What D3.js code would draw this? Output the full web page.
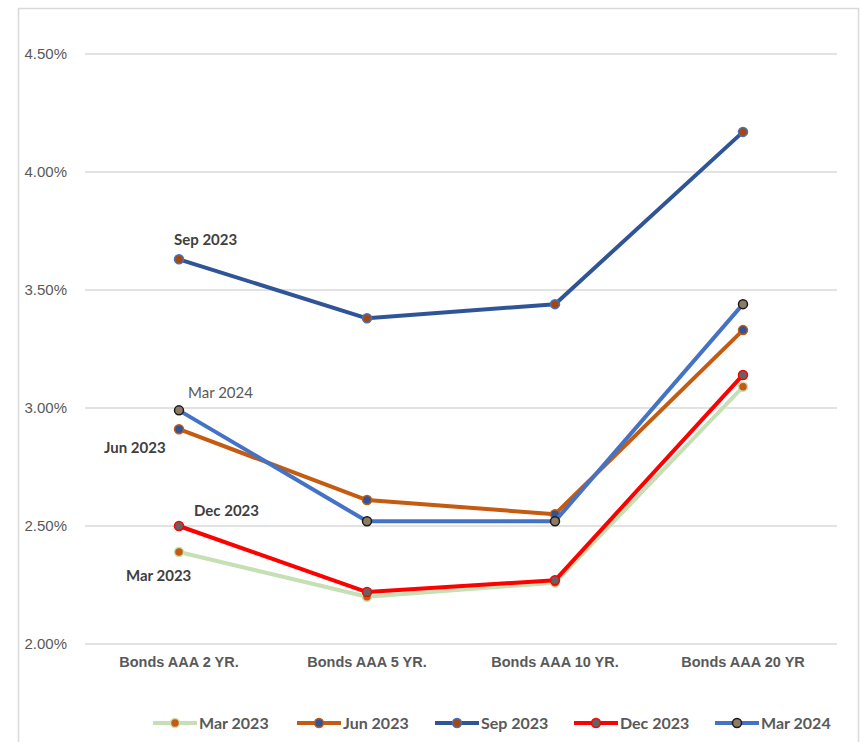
<!DOCTYPE html>
<html>
<head>
<meta charset="utf-8">
<script src="https://cdn.jsdelivr.net/npm/d3@7/dist/d3.min.js"></script>
<style>
  body { margin: 0; background: #fff; }
  svg { font-family: "Lato", "Open Sans", sans-serif; }
  .grid line { stroke: #d9d9d9; stroke-width: 1.5; }
  .ylab { fill: #595959; font-size: 15px; }
  .xlab { fill: #595959; font-size: 14.5px; font-weight: bold; }
  .leg { fill: #595959; font-size: 16px; font-weight: bold; }
</style>
</head>
<body>
<svg id="chart" width="862" height="742"></svg>
<script>
// categories along the x axis
var categories = ['Bonds AAA 2 YR.', 'Bonds AAA 5 YR.', 'Bonds AAA 10 YR.', 'Bonds AAA 20 YR'];
var yTicks = [2.0, 2.5, 3.0, 3.5, 4.0, 4.5];

// series values (percent)
var mar2023 = [2.39, 2.20, 2.26, 3.09];
var jun2023 = [2.91, 2.61, 2.55, 3.33];
var sep2023 = [3.63, 3.38, 3.44, 4.17];
var dec2023 = [2.50, 2.22, 2.27, 3.14];
var mar2024 = [2.99, 2.52, 2.52, 3.44];

var seriesNames = ['Mar 2023', 'Jun 2023', 'Sep 2023', 'Dec 2023', 'Mar 2024'];
var seriesValues = [mar2023, jun2023, sep2023, dec2023, mar2024];

// style per series: line colour, marker fill, marker outline
var styles = [
    {line: '#c5e0b4', fill: '#c55a11', edge: '#c5e0b4'},
    {line: '#c55a11', fill: '#2f5597', edge: '#c55a11'},
    {line: '#2f5597', fill: '#a5480f', edge: '#4472c4'},
    {line: '#ff0000', fill: '#636363', edge: '#ff0000'},
    {line: '#4472c4', fill: '#8c7b65', edge: '#1a1a1a'}
];

// label placement for the data labels at the first point
var labelInfo = [
    {dx: -53, dy: 29, bold: true, color: '#404040'},
    {dx: -75, dy: 24, bold: true, color: '#404040'},
    {dx: -5, dy: -14, bold: true, color: '#404040'},
    {dx: 15, dy: -10, bold: true, color: '#404040'},
    {dx: 9, dy: -12, bold: false, color: '#595959'}
];

var svg = d3.select('#chart');

// chart frame
svg.append('path')
    .attr('d', 'M18.5,750 V8.5 H858.5 V750')
    .attr('fill', 'none')
    .attr('stroke', '#d9d9d9')
    .attr('stroke-width', 1.5);

var x = d3.scaleBand().domain(categories).range([85, 837]);
var y = d3.scaleLinear().domain([2.0, 4.5]).range([644, 54]);

// gridlines
svg.append('g').attr('class', 'grid')
    .selectAll('line')
    .data(yTicks).enter().append('line')
    .attr('x1', 85).attr('x2', 837)
    .attr('y1', function(d) { return y(d); })
    .attr('y2', function(d) { return y(d); });

// y axis labels
var yAxis = d3.axisLeft(y).tickValues(yTicks).tickSize(0).tickPadding(0)
    .tickFormat(function(d) { return d3.format('.2f')(d) + '%'; });
var gy = svg.append('g').attr('transform', 'translate(67,0)').call(yAxis);
gy.select('.domain').remove();
gy.selectAll('text').attr('class', 'ylab').attr('fill', null).attr('font-size', null).attr('font-family', null);

// x axis labels
var xAxis = d3.axisBottom(x).tickSize(0).tickPadding(0);
var gx = svg.append('g').attr('transform', 'translate(0,657)').call(xAxis);
gx.select('.domain').remove();
gx.selectAll('text').attr('class', 'xlab').attr('fill', null).attr('font-size', null).attr('font-family', null);

var cx = function(d, i) { return x(categories[i]) + x.bandwidth() / 2; };
var line = d3.line()
    .x(function(d, i) { return cx(d, i); })
    .y(function(d) { return y(d); });

seriesValues.forEach(function(vals, s) {
    var st = styles[s];
    svg.append('path')
        .datum(vals)
        .attr('d', line)
        .attr('fill', 'none')
        .attr('stroke', st.line)
        .attr('stroke-width', 4)
        .attr('stroke-linejoin', 'round')
        .attr('stroke-linecap', 'round');
    svg.append('g').selectAll('circle')
        .data(vals).enter().append('circle')
        .attr('cx', cx)
        .attr('cy', function(d) { return y(d); })
        .attr('r', 4.5)
        .attr('fill', st.fill)
        .attr('stroke', st.edge)
        .attr('stroke-width', 1.5);
});

// data labels next to the first point of each series
seriesValues.forEach(function(vals, s) {
    var li = labelInfo[s];
    svg.append('text')
        .attr('x', cx(vals[0], 0) + li.dx)
        .attr('y', y(vals[0]) + li.dy)
        .attr('fill', li.color)
        .attr('font-size', '15px')
        .attr('font-weight', li.bold ? 'bold' : 'normal')
        .text(seriesNames[s]);
});

// legend
var legX = [153, 297, 435, 574, 715];
var legend = svg.append('g').attr('transform', 'translate(0,723)');
seriesNames.forEach(function(name, s) {
    var st = styles[s];
    var g = legend.append('g').attr('transform', 'translate(' + legX[s] + ',0)');
    g.append('line').attr('x1', 0).attr('x2', 44)
        .attr('stroke', st.line).attr('stroke-width', 4);
    g.append('circle').attr('cx', 22).attr('r', 4.5)
        .attr('fill', st.fill).attr('stroke', st.edge).attr('stroke-width', 1.5);
    g.append('text').attr('class', 'leg')
        .attr('x', 46).attr('dy', '0.35em')
        .text(name);
});
</script>
</body>
</html>
